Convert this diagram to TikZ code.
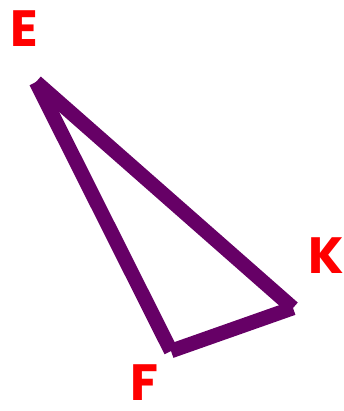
\documentclass[tikz,border=0pt]{standalone}
\usepackage{fontspec}
\setmainfont{Poppins}
\definecolor{edgepurple}{HTML}{660066}
\definecolor{labelred}{HTML}{FF0000}
\begin{document}
\begin{tikzpicture}[x=1pt,y=-1pt,
  side/.style={draw=edgepurple,line width=14.5pt,line cap=butt},
  vlabel/.style={text=labelred,font=\fontsize{51}{51}\selectfont\bfseries,inner sep=0pt,anchor=center}]
\useasboundingbox (0,0) rectangle (343,411);
\coordinate (E) at (36,82);
\coordinate (F) at (171,351);
\coordinate (K) at (293,308);
\draw[side] (K) -- (E);
\draw[side] (F) -- (K);
\draw[side] (E) -- (F);
\node[vlabel] (lE) at (24,29) {E};
\node[vlabel] (lK) at (326,256) {K};
\node[vlabel] (lF) at (144,383) {F};
\end{tikzpicture}
\end{document}
